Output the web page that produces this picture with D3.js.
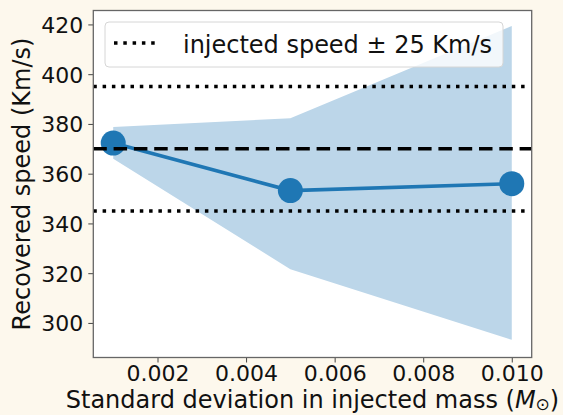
<!DOCTYPE html>
<html>
<head>
<meta charset="utf-8">
<script src="https://cdn.jsdelivr.net/npm/d3@7"></script>
<style>
  html, body { margin: 0; padding: 0; background: #fdf8ed; }
  svg { display: block; }
  text { font-family: "DejaVu Sans", sans-serif; fill: #111; }
</style>
</head>
<body>
<svg id="chart" width="563" height="415"></svg>
<script>
// Mass spread (solar masses) vs recovered speed
const massStd = [0.001, 0.005, 0.010];
const speedMedian = [372.3, 353.2, 356.0];
const speedUpper = [378.8, 382.3, 419.4];
const speedLower = [366.0, 321.6, 293.2];

const injectedSpeed = 370;
const tolerance = 25;

const xTicks = [0.002, 0.004, 0.006, 0.008, 0.010];
const yTicks = [300, 320, 340, 360, 380, 400, 420];

const legendLabel = "injected speed \u00b1 25 Km/s";
const xLabel = "Standard deviation in injected mass (";
const yLabel = "Recovered speed (Km/s)";

const blue = "#1f77b4";
const band = "#bcd6e9";

const W = 563, H = 415;
const m = { left: 93.3, right: 563 - 531.7, top: 10.5, bottom: 415 - 357.5 };

const svg = d3.select("#chart");

// Axis limits: x from data extent with 5% padding
function padded(lo, hi) {
  const p = (hi - lo) * 0.05;
  return [lo - p, hi + p];
}
const xDom = padded(d3.min(massStd), d3.max(massStd));
const yDom = [286.1, 425.6];

const x = d3.scaleLinear().domain(xDom).range([m.left, W - m.right]);
const y = d3.scaleLinear().domain(yDom).range([H - m.bottom, m.top]);

// Plot face
svg.append("rect")
  .attr("x", m.left).attr("y", m.top)
  .attr("width", W - m.left - m.right).attr("height", H - m.top - m.bottom)
  .attr("fill", "#ffffff");

const plot = svg.append("g");

// Uncertainty band
const rows = massStd.map((v, i) => ({ x: v, lo: speedLower[i], hi: speedUpper[i], mid: speedMedian[i] }));
plot.append("path")
  .datum(rows)
  .attr("fill", band)
  .attr("d", d3.area().x(d => x(d.x)).y0(d => y(d.lo)).y1(d => y(d.hi)));

// Median line with markers
plot.append("path")
  .datum(rows)
  .attr("fill", "none")
  .attr("stroke", blue)
  .attr("stroke-width", 3.6)
  .attr("d", d3.line().x(d => x(d.x)).y(d => y(d.mid)));

plot.selectAll("circle.pt")
  .data(rows)
  .join("circle")
  .attr("class", "pt")
  .attr("cx", d => x(d.x))
  .attr("cy", d => y(d.mid))
  .attr("r", 12.5)
  .attr("fill", blue);

// Reference speed and tolerance lines
const x0 = m.left, x1 = W - m.right;
plot.append("line")
  .attr("x1", x0).attr("x2", x1)
  .attr("y1", y(injectedSpeed)).attr("y2", y(injectedSpeed))
  .attr("stroke", "#000").attr("stroke-width", 3.5)
  .attr("stroke-dasharray", "13.5,6.8");

[injectedSpeed + tolerance, injectedSpeed - tolerance].forEach(v => {
  plot.append("line")
    .attr("x1", x0).attr("x2", x1 - 4)
    .attr("y1", y(v)).attr("y2", y(v))
    .attr("stroke", "#000").attr("stroke-width", 3.5)
    .attr("stroke-dasharray", "3.5,5.8");
});

// Axes
const tickFont = 22;
const labelFont = 24;
const xAxis = svg.append("g")
  .attr("transform", `translate(0,${H - m.bottom})`)
  .call(d3.axisBottom(x).tickValues(xTicks).tickFormat(d3.format(".3f")).tickSizeOuter(0).tickSize(5).tickPadding(6));
const yAxis = svg.append("g")
  .attr("transform", `translate(${m.left},0)`)
  .call(d3.axisLeft(y).tickValues(yTicks).tickFormat(d3.format("d")).tickSizeOuter(0).tickSize(5).tickPadding(5));

[xAxis, yAxis].forEach(g => {
  g.select(".domain").remove();
  g.selectAll(".tick line").attr("stroke", "#444").attr("stroke-width", 1);
  g.selectAll(".tick text").attr("font-size", tickFont).attr("fill", "#111")
    .style("font-family", "'DejaVu Sans', sans-serif");
});
xAxis.selectAll(".tick text").attr("y", 23).attr("dy", 0);
yAxis.selectAll(".tick text").attr("dy", "0.36em");

// Frame
svg.append("rect")
  .attr("x", m.left).attr("y", m.top)
  .attr("width", W - m.left - m.right).attr("height", H - m.top - m.bottom)
  .attr("fill", "none").attr("stroke", "#666").attr("stroke-width", 1.3);

// Axis labels
const xl = svg.append("text")
  .attr("x", (m.left + W - m.right) / 2)
  .attr("y", 408)
  .attr("text-anchor", "middle")
  .attr("font-size", labelFont);
xl.append("tspan").text(xLabel);
xl.append("tspan").attr("font-style", "italic").text("M");
xl.append("tspan").attr("font-size", 17).attr("dy", 2).text("\u2299");
xl.append("tspan").attr("dy", -2).text(")");

svg.append("text")
  .attr("transform", `translate(30,${(m.top + H - m.bottom) / 2}) rotate(-90)`)
  .attr("text-anchor", "middle")
  .attr("font-size", labelFont)
  .text(yLabel);

// Legend
const lg = svg.append("g");
lg.append("rect")
  .attr("x", 105).attr("y", 22)
  .attr("width", 398).attr("height", 45)
  .attr("rx", 4).attr("ry", 4)
  .attr("fill", "rgba(255,255,255,0.8)")
  .attr("stroke", "#d6d6d6").attr("stroke-width", 1);
lg.append("line")
  .attr("x1", 114).attr("x2", 158)
  .attr("y1", 43).attr("y2", 43)
  .attr("stroke", "#000").attr("stroke-width", 3.5)
  .attr("stroke-dasharray", "3.5,5.8");
lg.append("text")
  .attr("x", 183).attr("y", 52.5)
  .attr("font-size", labelFont)
  .attr("textLength", 309)
  .attr("lengthAdjust", "spacing")
  .text(legendLabel);
</script>
</body>
</html>
